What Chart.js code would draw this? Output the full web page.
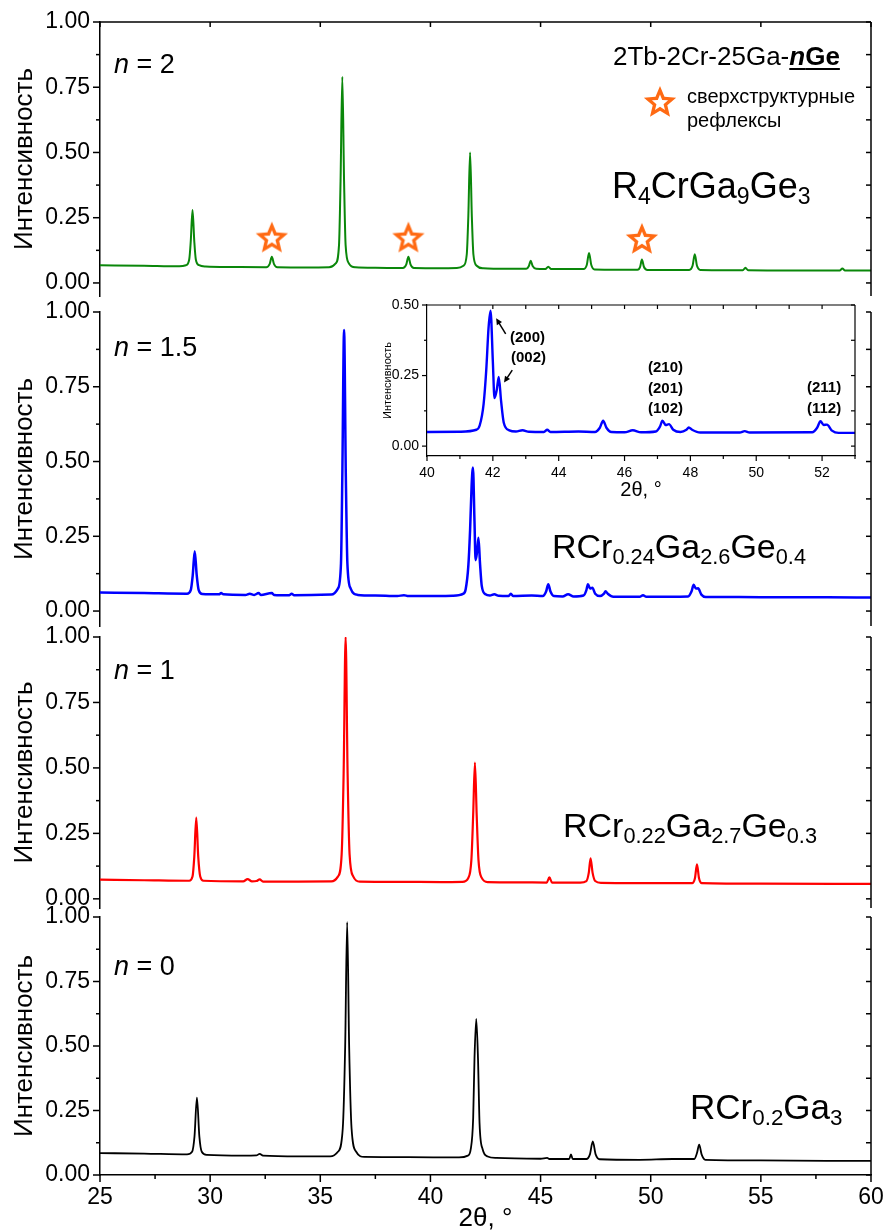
<!DOCTYPE html>
<html>
<head>
<meta charset="utf-8">
<script src="https://cdn.jsdelivr.net/npm/chart.js@4.4.1/dist/chart.umd.min.js"></script>
<style>
  html, body { margin: 0; padding: 0; background: #fff; }
  #wrap { position: relative; width: 887px; height: 1232px; overflow: hidden; font-family: "Liberation Sans", Arial, sans-serif; color: #000; }
  #wrap canvas { position: absolute; left: 0; }
  .lbl { position: absolute; white-space: nowrap; line-height: 1; }
  .lbl sub { font-size: 0.64em; vertical-align: -0.28em; line-height: 0; }
  .hkl { position: absolute; white-space: nowrap; font-weight: bold; font-size: 15px; line-height: 20.5px; }
</style>
</head>
<body>
<div id="wrap">
  <canvas id="p1" width="895" height="322" style="top:-2px"></canvas>
  <canvas id="p2" width="895" height="362" style="top:288px"></canvas>
  <canvas id="p3" width="895" height="319" style="top:613px"></canvas>
  <canvas id="p4" width="895" height="339" style="top:893px"></canvas>
  <canvas id="inset" width="500" height="212" style="top:290px;left:370px"></canvas>
  <canvas id="legStar" width="38" height="38" style="top:84px;left:641px"></canvas>

  <div class="lbl" style="left:114px;top:51px;font-size:27px"><i>n</i> = 2</div>
  <div class="lbl" style="left:114px;top:334px;font-size:27px"><i>n</i> = 1.5</div>
  <div class="lbl" style="left:114px;top:657px;font-size:27px"><i>n</i> = 1</div>
  <div class="lbl" style="left:114px;top:953px;font-size:27px"><i>n</i> = 0</div>

  <div class="lbl" style="left:613px;top:43px;font-size:26px">2Tb-2Cr-25Ga-<b style="text-decoration:underline;text-decoration-thickness:2px;text-underline-offset:3px"><i>n</i>Ge</b></div>
  <div class="lbl" style="left:687px;top:84px;font-size:20px;line-height:24px">сверхструктурные<br>рефлексы</div>

  <div class="lbl" style="left:612px;top:168px;font-size:36px">R<sub>4</sub>CrGa<sub>9</sub>Ge<sub>3</sub></div>
  <div class="lbl" style="left:552px;top:529px;font-size:34px">RCr<sub>0.24</sub>Ga<sub>2.6</sub>Ge<sub>0.4</sub></div>
  <div class="lbl" style="left:563px;top:808px;font-size:34px">RCr<sub>0.22</sub>Ga<sub>2.7</sub>Ge<sub>0.3</sub></div>
  <div class="lbl" style="left:690px;top:1089px;font-size:35px">RCr<sub>0.2</sub>Ga<sub>3</sub></div>

  <div class="hkl" style="left:510px;top:327px">(200)</div>
  <div class="hkl" style="left:511px;top:347px">(002)</div>
  <div class="hkl" style="left:648px;top:357px">(210)<br>(201)<br>(102)</div>
  <div class="hkl" style="left:807px;top:377px">(211)<br>(112)</div>
</div>

<script>
// 2theta (deg) and normalised intensity
const xN2 = [25, 27, 28.6, 28.9, 29.05, 29.12, 29.2, 29.28, 29.35, 29.5, 29.8, 31, 32.55, 32.7, 32.8, 32.9, 33.05, 34.5, 35.4, 35.7,
  35.85, 35.92, 36.0, 36.08, 36.15, 36.3, 36.6, 37.5, 38.75, 38.9, 39.0, 39.1, 39.25, 40.5, 41.2, 41.5, 41.65, 41.72, 41.8, 41.88,
  41.95, 42.1, 42.4, 43.5, 44.35, 44.47, 44.55, 44.64, 44.8, 45.22, 45.35, 45.48, 46.5, 46.95, 47.1, 47.2, 47.3, 47.45, 48.5, 49.4,
  49.52, 49.6, 49.69, 49.85, 51.0, 51.75, 51.9, 52.0, 52.1, 52.25, 53.5, 54.18, 54.3, 54.42, 56.5, 58.58, 58.7, 58.82, 60]
const yN2 = [0.068, 0.066, 0.064, 0.068, 0.09, 0.16, 0.28, 0.16, 0.09, 0.068, 0.063, 0.061, 0.06, 0.072, 0.10, 0.072, 0.06, 0.059, 0.06, 0.075,
  0.145, 0.39, 0.79, 0.39, 0.145, 0.075, 0.06, 0.058, 0.057, 0.07, 0.10, 0.07, 0.057, 0.056, 0.057, 0.066, 0.11, 0.255, 0.50, 0.255,
  0.11, 0.066, 0.056, 0.054, 0.054, 0.065, 0.085, 0.065, 0.054, 0.053, 0.062, 0.053, 0.053, 0.053, 0.07, 0.115, 0.07, 0.052, 0.051, 0.051,
  0.062, 0.09, 0.062, 0.05, 0.05, 0.05, 0.066, 0.11, 0.066, 0.05, 0.049, 0.049, 0.058, 0.049, 0.048, 0.048, 0.055, 0.048, 0.048]

const xN15 = [25, 27, 28.95, 29.12, 29.21, 29.3, 29.39, 29.48, 29.65, 30.4, 30.5, 30.6, 31.6, 31.8, 32.0, 32.2, 32.3, 32.8, 32.9, 33.6,
  33.7, 33.8, 35.5, 35.8, 35.94, 36.0, 36.08, 36.16, 36.23, 36.38, 36.7, 37.5, 38.5, 38.8, 39.0, 40.0, 41.0, 41.5, 41.6, 41.72,
  41.8, 41.87, 41.93, 42.0, 42.05, 42.12, 42.18, 42.25, 42.33, 42.5, 42.7, 42.9, 43.1, 43.55, 43.65, 43.75, 44.6, 45.1, 45.25, 45.35,
  45.45, 45.6, 46.0, 46.25, 46.5, 46.95, 47.08, 47.15, 47.25, 47.35, 47.48, 47.7, 47.88, 47.95, 48.05, 48.3, 49.5, 49.65, 49.8, 51.7,
  51.85, 51.95, 52.05, 52.15, 52.3, 52.5, 54, 56, 58, 60]
const yN15 = [0.062, 0.06, 0.058, 0.07, 0.12, 0.20, 0.12, 0.07, 0.057, 0.056, 0.06, 0.056, 0.054, 0.058, 0.054, 0.06, 0.054, 0.06, 0.054, 0.053,
  0.058, 0.053, 0.055, 0.075, 0.16, 0.45, 0.94, 0.45, 0.16, 0.075, 0.054, 0.052, 0.05, 0.053, 0.05, 0.05, 0.051, 0.058, 0.073, 0.15,
  0.27, 0.42, 0.48, 0.3, 0.17, 0.2, 0.245, 0.16, 0.084, 0.056, 0.052, 0.056, 0.051, 0.05, 0.058, 0.05, 0.052, 0.05, 0.065, 0.09,
  0.065, 0.05, 0.049, 0.056, 0.049, 0.052, 0.07, 0.09, 0.075, 0.078, 0.058, 0.05, 0.058, 0.066, 0.058, 0.048, 0.048, 0.053, 0.048, 0.049,
  0.065, 0.088, 0.075, 0.076, 0.055, 0.047, 0.047, 0.046, 0.046, 0.045]

const xN1 = [25, 27, 29.05, 29.2, 29.28, 29.37, 29.46, 29.55, 29.7, 31.5, 31.7, 31.9, 32.1, 32.25, 32.4, 34, 35.5, 35.8, 35.97, 36.06,
  36.15, 36.24, 36.33, 36.5, 36.8, 38.5, 40.5, 41.45, 41.72, 41.86, 41.94, 42.02, 42.1, 42.18, 42.33, 42.6, 44, 45.28, 45.4, 45.52,
  46.8, 47.08, 47.19, 47.27, 47.36, 47.48, 47.75, 50, 51.88, 52.01, 52.1, 52.19, 52.32, 55, 60]
const yN1 = [0.073, 0.071, 0.069, 0.085, 0.16, 0.31, 0.16, 0.085, 0.069, 0.067, 0.075, 0.067, 0.068, 0.074, 0.066, 0.066, 0.067, 0.085, 0.17, 0.48,
  1.0, 0.48, 0.17, 0.085, 0.066, 0.065, 0.064, 0.065, 0.08, 0.15, 0.32, 0.52, 0.32, 0.15, 0.08, 0.064, 0.063, 0.062, 0.082, 0.062,
  0.062, 0.068, 0.1, 0.155, 0.1, 0.068, 0.061, 0.06, 0.06, 0.08, 0.132, 0.08, 0.06, 0.058, 0.057]

const xN0 = [25, 27, 28.95, 29.18, 29.29, 29.4, 29.51, 29.62, 29.85, 31.5, 32.1, 32.25, 32.4, 34, 35.45, 35.8, 36.02, 36.13, 36.22, 36.31,
  36.42, 36.63, 37, 39, 41.3, 41.7, 41.83, 41.94, 42.0, 42.08, 42.16, 42.23, 42.37, 42.6, 43, 45, 45.3, 45.4, 46.3, 46.38,
  46.46, 47.08, 47.24, 47.37, 47.5, 47.68, 49.5, 51, 51.98, 52.1, 52.2, 52.31, 52.48, 55, 58, 60]
const yN0 = [0.085, 0.083, 0.08, 0.09, 0.15, 0.30, 0.15, 0.09, 0.078, 0.075, 0.076, 0.082, 0.075, 0.072, 0.072, 0.09, 0.18, 0.5, 0.98, 0.5,
  0.18, 0.09, 0.07, 0.069, 0.068, 0.075, 0.1, 0.22, 0.45, 0.605, 0.45, 0.2, 0.1, 0.072, 0.066, 0.063, 0.066, 0.062, 0.062, 0.08,
  0.062, 0.062, 0.08, 0.13, 0.08, 0.061, 0.059, 0.062, 0.062, 0.085, 0.118, 0.08, 0.059, 0.057, 0.055, 0.055]

// superstructure reflections (stars) in the n = 2 pattern
const starX = [32.8, 39.0, 49.6]
const starY = [0.17, 0.17, 0.165]

// axis ticks
const yMajor = [0, 0.25, 0.5, 0.75, 1.0]
const yMinor = [0.125, 0.375, 0.625, 0.875]
const xMajor = [25, 30, 35, 40, 45, 50, 55, 60]
const xMinor = [27.5, 32.5, 37.5, 42.5, 47.5, 52.5, 57.5]
const insetXMajor = [40, 42, 44, 46, 48, 50, 52]
const insetXMinor = [41, 43, 45, 47, 49, 51, 53]
const insetXTop = [41, 42, 43, 44, 45, 46, 47, 48, 49, 50, 51, 52]
const insetYMajor = [0, 0.25, 0.5]
const insetYMinor = [0.125, 0.375]

;(function () {
  'use strict'

  Chart.defaults.font.family = '"Liberation Sans", Arial, sans-serif'
  Chart.defaults.color = '#000'

  function starImage (R) {
    const c = document.createElement('canvas')
    const s = Math.ceil(2 * R + 4)
    c.width = c.height = s
    const g = c.getContext('2d')
    const path = (ro, ri) => {
      g.beginPath()
      for (let i = 0; i < 10; i++) {
        const r = i % 2 ? ri : ro
        const a = -Math.PI / 2 + i * Math.PI / 5
        g.lineTo(s / 2 + r * Math.cos(a), s / 2 + r * Math.sin(a))
      }
      g.closePath()
    }
    path(R, R * 0.45)
    g.fillStyle = '#ff6a13'
    g.fill()
    path(R * 0.5, R * 0.22)
    g.fillStyle = '#fff'
    g.fill()
    return c
  }
  const star = starImage(17)
  document.getElementById('legStar').getContext('2d').drawImage(star, 0, 0)

  // axis lines + minor / inward ticks that Chart.js does not draw by itself
  const framePlugin = {
    id: 'frame',
    afterDraw (chart, args, o) {
      const { ctx, chartArea: a } = chart
      const xs = chart.scales.x
      const ys = chart.scales.y
      ctx.save()
      ctx.strokeStyle = '#000'
      ctx.lineWidth = o.width
      const seg = (x1, y1, x2, y2) => { ctx.beginPath(); ctx.moveTo(x1, y1); ctx.lineTo(x2, y2); ctx.stroke() }
      o.yMajor.forEach(v => { const p = ys.getPixelForValue(v); seg(a.left - o.major, p, a.left, p) })
      o.yMinor.forEach(v => { const p = ys.getPixelForValue(v); seg(a.left - o.minor, p, a.left, p) })
      if (o.right) {
        seg(a.right, a.top, a.right, a.bottom)
        o.yMajor.concat(o.yMinor).forEach(v => { const p = ys.getPixelForValue(v); seg(a.right - o.inner, p, a.right, p) })
      }
      if (o.top) {
        seg(a.left, a.top, a.right, a.top)
        o.xTop.forEach(v => { const p = xs.getPixelForValue(v); seg(p, a.top, p, a.top + o.inner) })
      }
      if (o.bottom) {
        o.xMajor.forEach(v => { const p = xs.getPixelForValue(v); seg(p, a.bottom, p, a.bottom + o.major) })
        o.xMinor.forEach(v => { const p = xs.getPixelForValue(v); seg(p, a.bottom, p, a.bottom + o.minor) })
      }
      ctx.restore()
    }
  }

  // small arrows pointing at the (200) / (002) peaks of the inset
  const arrowPlugin = {
    id: 'arrows',
    afterDraw (chart, args, o) {
      if (!o.list) return
      const { ctx } = chart
      const xs = chart.scales.x
      const ys = chart.scales.y
      ctx.save()
      ctx.strokeStyle = '#000'
      ctx.fillStyle = '#000'
      ctx.lineWidth = 1.5
      o.list.forEach(r => {
        const x1 = xs.getPixelForValue(r[0]); const y1 = ys.getPixelForValue(r[1])
        const x2 = xs.getPixelForValue(r[2]); const y2 = ys.getPixelForValue(r[3])
        const ang = Math.atan2(y2 - y1, x2 - x1)
        ctx.beginPath(); ctx.moveTo(x1, y1); ctx.lineTo(x2 - 5 * Math.cos(ang), y2 - 5 * Math.sin(ang)); ctx.stroke()
        ctx.beginPath()
        ctx.moveTo(x2, y2)
        ctx.lineTo(x2 - 7 * Math.cos(ang - 0.45), y2 - 7 * Math.sin(ang - 0.45))
        ctx.lineTo(x2 - 7 * Math.cos(ang + 0.45), y2 - 7 * Math.sin(ang + 0.45))
        ctx.closePath(); ctx.fill()
      })
      ctx.restore()
    }
  }

  function pattern (xs, ys, color, width) {
    return {
      data: xs.map((x, i) => ({ x: x, y: ys[i] })),
      borderColor: color,
      borderWidth: width,
      pointRadius: 0,
      cubicInterpolationMode: 'monotone',
      fill: false
    }
  }

  function panel (id, datasets, yMin, withX, frame) {
    return new Chart(document.getElementById(id), {
      type: 'line',
      data: { datasets: datasets },
      plugins: [framePlugin],
      options: {
        responsive: false,
        animation: false,
        events: [],
        layout: { padding: { top: 24, right: 24, bottom: withX ? 0 : 24, left: 0 } },
        plugins: { legend: { display: false }, tooltip: { enabled: false }, frame: frame },
        scales: {
          x: {
            type: 'linear',
            min: 25,
            max: 60,
            display: withX,
            grid: { display: false },
            border: { display: true, color: '#000', width: 1.5 },
            afterBuildTicks: s => { s.ticks = xMajor.map(v => ({ value: v })) },
            afterFit: withX ? s => { s.height = 57 } : undefined,
            ticks: { font: { size: 23 }, color: '#000', padding: 1, maxRotation: 0, callback: v => String(v) },
            title: { display: true, text: '2θ, °', font: { size: 26, lineHeight: 1 }, color: '#000', padding: { top: 0, bottom: 0 } }
          },
          y: {
            type: 'linear',
            min: yMin,
            max: 1,
            grid: { display: false },
            border: { display: true, color: '#000', width: 1.5 },
            afterBuildTicks: s => { s.ticks = yMajor.map(v => ({ value: v })) },
            afterFit: s => { s.width = 100 },
            ticks: { font: { size: 23 }, color: '#000', padding: 2, callback: v => v.toFixed(2) },
            title: { display: true, text: 'Интенсивность', font: { size: 26 }, color: '#000', padding: { top: 9, bottom: 0 } }
          }
        }
      }
    })
  }

  const mainFrame = { width: 1.5, major: 7, minor: 4, inner: 5, yMajor: yMajor, yMinor: yMinor, right: true }

  const starSet = {
    data: starX.map((x, i) => ({ x: x, y: starY[i] })),
    showLine: false,
    pointStyle: star,
    pointRadius: 17
  }

  panel('p1', [pattern(xN2, yN2, '#0a870a', 2), starSet], -0.05, false,
    Object.assign({}, mainFrame, { top: true, xTop: xMajor }))
  panel('p2', [pattern(xN15, yN15, '#0000ff', 2.5)], -0.05, false, mainFrame)
  panel('p3', [pattern(xN1, yN1, '#ff0000', 2.2)], -0.035, false, mainFrame)
  panel('p4', [pattern(xN0, yN0, '#000000', 1.8)], 0, true,
    Object.assign({}, mainFrame, { bottom: true, xMajor: xMajor, xMinor: xMinor }))

  // inset: zoom of the n = 1.5 pattern
  new Chart(document.getElementById('inset'), {
    type: 'line',
    data: { datasets: [pattern(xN15, yN15, '#0000ff', 2.4)] },
    plugins: [framePlugin, arrowPlugin],
    options: {
      responsive: false,
      animation: false,
      events: [],
      layout: { padding: { top: 15, right: 15, bottom: 0, left: 0 } },
      plugins: {
        legend: { display: false },
        tooltip: { enabled: false },
        frame: {
          width: 1.2, major: 5, minor: 3, inner: 4, yMajor: insetYMajor, yMinor: insetYMinor,
          right: true, top: true, xTop: insetXTop, bottom: true, xMajor: insetXMajor, xMinor: insetXMinor
        },
        arrows: { list: [[42.39, 0.398, 42.1, 0.453], [42.59, 0.269, 42.34, 0.225]] }
      },
      scales: {
        x: {
          type: 'linear',
          min: 40,
          max: 53,
          grid: { display: false },
          border: { display: true, color: '#000', width: 1.2 },
          afterBuildTicks: s => { s.ticks = insetXMajor.map(v => ({ value: v })) },
          afterFit: s => { s.height = 46 },
          ticks: { font: { size: 14 }, color: '#000', padding: 1, maxRotation: 0, callback: v => String(v) },
          title: { display: true, text: '2θ, °', font: { size: 20, lineHeight: 1 }, color: '#000', padding: { top: 0, bottom: 2 } }
        },
        y: {
          type: 'linear',
          min: -0.035,
          max: 0.5,
          grid: { display: false },
          border: { display: true, color: '#000', width: 1.2 },
          afterBuildTicks: s => { s.ticks = insetYMajor.map(v => ({ value: v })) },
          afterFit: s => { s.width = 57 },
          ticks: { font: { size: 14 }, color: '#000', padding: 0, callback: v => v.toFixed(2) },
          title: { display: true, text: 'Интенсивность', font: { size: 11 }, color: '#000', padding: { top: 11, bottom: 0 } }
        }
      }
    }
  })
})()
</script>
</body>
</html>
